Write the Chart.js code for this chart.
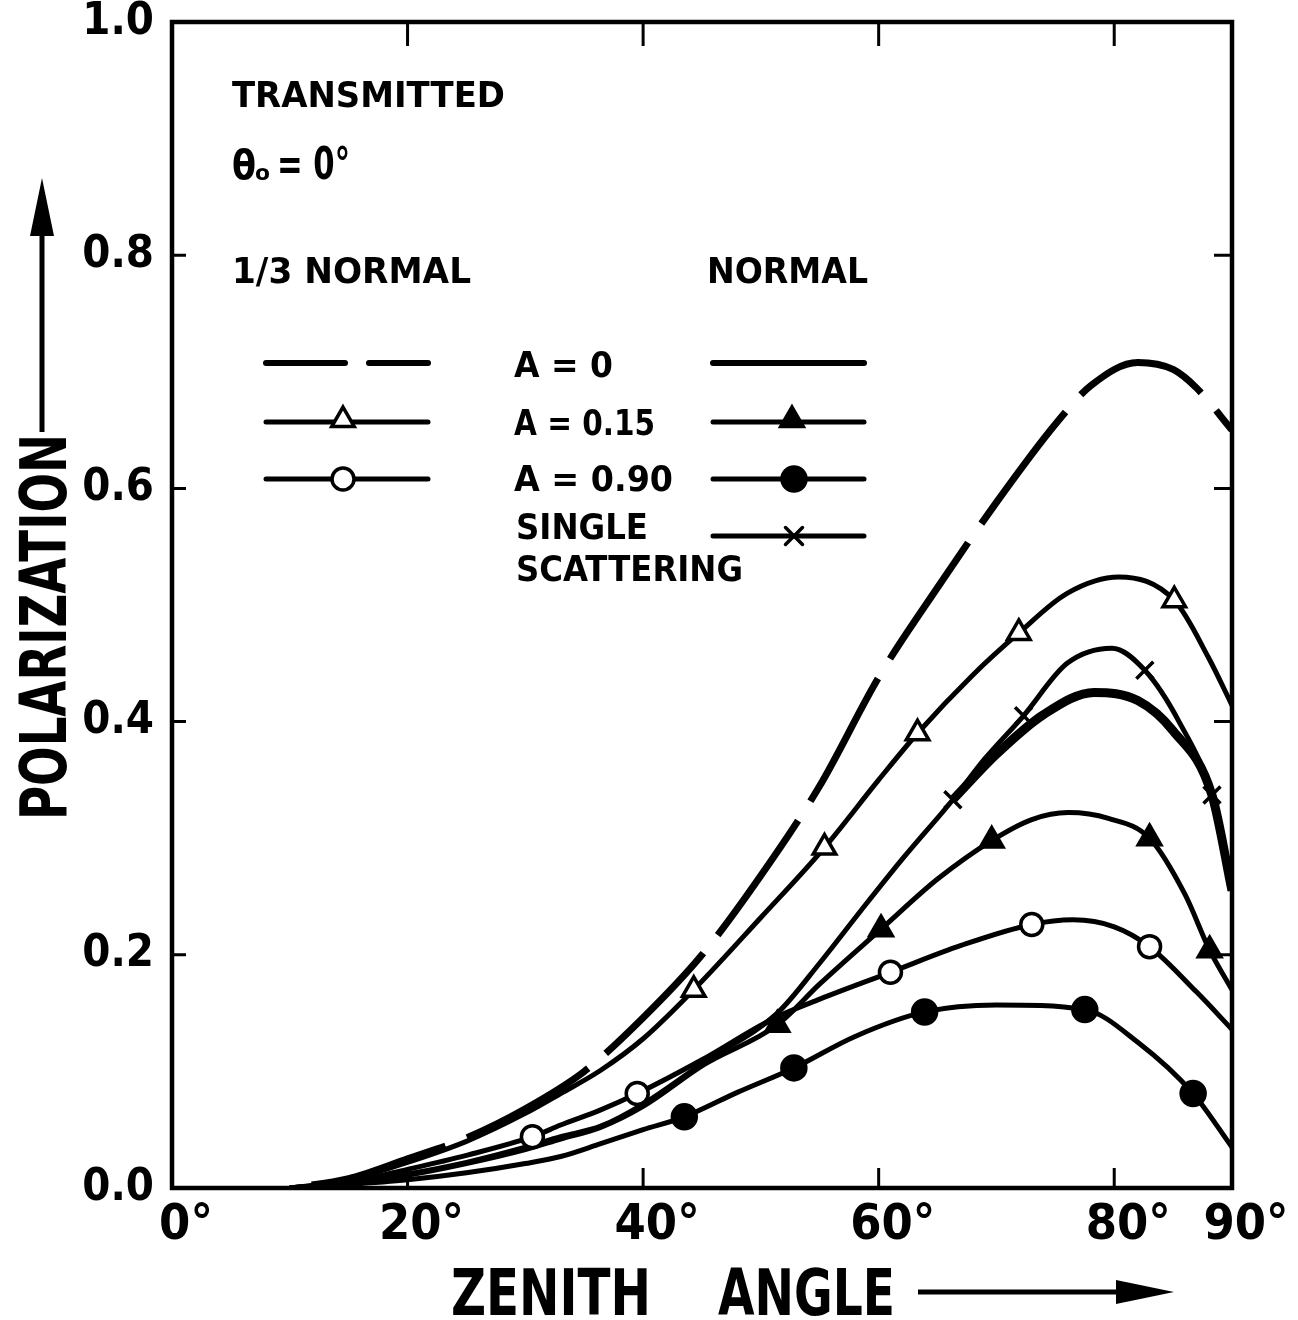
<!DOCTYPE html>
<html>
<head>
<meta charset="utf-8">
<script src="https://cdn.jsdelivr.net/npm/chart.js@4.4.1/dist/chart.umd.min.js"></script>
<style>
    html, body { margin: 0; padding: 0; background: #fff; }
    #wrap { position: relative; width: 1298px; height: 1320px; }
</style>
</head>
<body>
<div id="wrap"><canvas id="polChart" width="1298" height="1320"></canvas></div>
<script>
// Zenith angle (deg) and polarization

// 1/3 normal, A = 0 (dashed)
const thirdA0X = [10, 15, 20, 25, 30, 35, 40, 45, 50, 55, 60, 65, 70, 75, 78, 82, 85, 87, 90];
const thirdA0Y = [0, 0.008, 0.025, 0.043, 0.068, 0.100, 0.146, 0.200, 0.268, 0.345, 0.438, 0.515, 0.588, 0.655, 0.688, 0.708, 0.702, 0.686, 0.650];

// 1/3 normal, A = 0.15 (open triangles)
const thirdA15X = [10, 15, 20, 25, 30, 33, 36.4, 40, 44.3, 50, 55.4, 60, 63.3, 68, 71.9, 76, 80.4, 85.1, 88, 90];
const thirdA15Y = [0, 0.007, 0.022, 0.040, 0.064, 0.081, 0.101, 0.128, 0.170, 0.232, 0.292, 0.350, 0.390, 0.440, 0.476, 0.510, 0.524, 0.504, 0.455, 0.414];
const thirdA15Marks = [44.3, 55.4, 63.3, 71.9, 85.1];

// 1/3 normal, A = 0.90 (open circles)
const thirdA90X = [10, 15, 20, 25, 30.6, 33, 36.4, 39.5, 45, 51, 55, 61, 67, 73, 76.5, 80, 83, 87, 90];
const thirdA90Y = [0, 0.005, 0.016, 0.028, 0.044, 0.054, 0.067, 0.081, 0.110, 0.145, 0.162, 0.185, 0.208, 0.226, 0.230, 0.224, 0.207, 0.168, 0.136];
const thirdA90Marks = [30.6, 39.5, 61, 73, 83];

// normal, A = 0 (solid, splits from single scattering near 66 deg)
const normA0X = [66.3, 70, 74, 78.3, 82, 85, 88.3, 90];
const normA0Y = [0.333, 0.372, 0.406, 0.425, 0.418, 0.392, 0.337, 0.255];

// normal, A = 0.15 (filled triangles)
const normA15X = [10, 15, 20, 25, 30, 33, 36.4, 40, 45.2, 51.4, 55, 60.2, 65, 69.6, 73, 76.1, 79.5, 83, 86, 88.1, 90];
const normA15Y = [0, 0.004, 0.011, 0.021, 0.033, 0.042, 0.052, 0.070, 0.106, 0.140, 0.175, 0.222, 0.265, 0.298, 0.316, 0.322, 0.317, 0.300, 0.252, 0.204, 0.170];
const normA15Marks = [51.4, 60.2, 69.6, 83, 88.1];

// normal, A = 0.90 (filled circles)
const normA90X = [10, 15, 20, 25, 30, 33, 36.4, 40, 43.5, 48, 52.8, 58, 63.9, 70, 77.5, 82, 86.7, 90];
const normA90Y = [0, 0.003, 0.007, 0.013, 0.021, 0.027, 0.038, 0.050, 0.061, 0.082, 0.103, 0.130, 0.151, 0.157, 0.153, 0.125, 0.081, 0.035];
const normA90Marks = [43.5, 52.8, 63.9, 77.5, 86.7];

// single scattering (crosses)
const singleX = [10, 15, 20, 25, 30, 33, 36.4, 40, 45.2, 51.4, 55, 58.5, 62, 66.3, 69, 72.3, 76, 79.8, 82.6, 85.5, 88.3, 90];
const singleY = [0, 0.004, 0.012, 0.022, 0.035, 0.044, 0.053, 0.072, 0.108, 0.150, 0.193, 0.238, 0.282, 0.333, 0.368, 0.405, 0.450, 0.463, 0.444, 0.400, 0.337, 0.260];
const singleMarks = [66.3, 72.3, 82.6, 88.3];

// axis ticks
const xTickValues = [0, 20, 40, 60, 80, 90];
const yTickValues = [0, 0.2, 0.4, 0.6, 0.8, 1.0];
const xInnerTicks = [20, 40, 60, 80];
const yInnerTicks = [0.2, 0.4, 0.6, 0.8];

const INK = '#000';
const TEXT_FONT = '"DejaVu Sans Condensed", "DejaVu Sans", sans-serif';

function toPoints(xs, ys) {
    return xs.map((x, i) => ({ x: x, y: ys[i] }));
}

function markPoints(xs, ys, marks) {
    return xs.map((x, i) => ({ x: x, y: ys[i] })).filter(p => marks.includes(p.x));
}

function lineSet(label, xs, ys, width, dash) {
    return {
        label: label,
        data: toPoints(xs, ys),
        borderColor: INK,
        borderWidth: width,
        borderDash: dash || [],
        borderDashOffset: dash ? 141 : 0,
        pointRadius: 0,
        fill: false,
        cubicInterpolationMode: 'monotone',
        order: 2
    };
}

function markSet(label, xs, ys, marks, style, radius, filled) {
    return {
        label: label,
        data: markPoints(xs, ys, marks),
        showLine: false,
        pointStyle: style,
        pointRadius: radius,
        pointBorderWidth: 3.5,
        pointBorderColor: INK,
        pointBackgroundColor: filled ? INK : '#fff',
        order: 1
    };
}

/**
 * Draw a bold text stretched to a given width (lettering of the figure is condensed)
 */
function fitText(ctx, str, x, y, size, width, angle) {
    ctx.save();
    ctx.font = 'bold ' + size + 'px ' + TEXT_FONT;
    ctx.textBaseline = 'alphabetic';
    ctx.textAlign = 'left';
    const w = ctx.measureText(str).width;
    ctx.translate(x, y);
    if (angle) ctx.rotate(angle);
    ctx.scale(width / w, 1);
    ctx.fillStyle = INK;
    ctx.fillText(str, 0, 0);
    ctx.restore();
}

function legendLine(ctx, x1, x2, y) {
    ctx.beginPath();
    ctx.moveTo(x1, y);
    ctx.lineTo(x2, y);
    ctx.stroke();
}

function legendMark(ctx, style, radius, filled, x, y) {
    ctx.fillStyle = filled ? INK : '#fff';
    ctx.strokeStyle = INK;
    ctx.lineWidth = 3.5;
    Chart.helpers.drawPoint(ctx, { pointStyle: style, radius: radius, borderWidth: 3.5, rotation: 0 }, x, y);
}

// Frame with inward ticks on all four sides
const framePlugin = {
    id: 'frame',
    afterDatasetsDraw(chart) {
        const { ctx, chartArea: a, scales } = chart;
        ctx.save();
        ctx.strokeStyle = INK;
        ctx.lineWidth = 4.5;
        ctx.strokeRect(a.left, a.top, a.right - a.left, a.bottom - a.top);
        ctx.lineWidth = 3;
        ctx.beginPath();
        xInnerTicks.forEach(v => {
            const px = scales.x.getPixelForValue(v);
            ctx.moveTo(px, a.top);
            ctx.lineTo(px, a.top + 24);
            ctx.moveTo(px, a.bottom);
            ctx.lineTo(px, a.bottom - 20);
        });
        yInnerTicks.forEach(v => {
            const py = scales.y.getPixelForValue(v);
            ctx.moveTo(a.left, py);
            ctx.lineTo(a.left + 14, py);
            ctx.moveTo(a.right, py);
            ctx.lineTo(a.right - 18, py);
        });
        ctx.stroke();
        ctx.restore();
    }
};

// Texts, legend and axis titles written on the figure
const notesPlugin = {
    id: 'notes',
    afterDraw(chart) {
        const ctx = chart.ctx;
        ctx.save();

        fitText(ctx, 'TRANSMITTED', 232, 107, 36, 273);
        fitText(ctx, 'θ', 232, 179, 40, 24);
        fitText(ctx, 'o', 255, 180, 22, 15);
        fitText(ctx, '= 0°', 277, 179, 44, 73);
        fitText(ctx, '1/3 NORMAL', 232, 283, 36, 239);
        fitText(ctx, 'NORMAL', 707, 283, 36, 161);

        fitText(ctx, 'A = 0', 514, 377, 36, 99);
        fitText(ctx, 'A = 0.15', 514, 435, 36, 141);
        fitText(ctx, 'A = 0.90', 514, 491, 36, 159);
        fitText(ctx, 'SINGLE', 516, 539, 36, 132);
        fitText(ctx, 'SCATTERING', 516, 581, 36, 227);

        // legend samples
        ctx.strokeStyle = INK;
        ctx.lineWidth = 6;
        ctx.lineCap = 'round';
        legendLine(ctx, 266, 345, 363);
        legendLine(ctx, 369, 428, 363);
        ctx.lineWidth = 5;
        legendLine(ctx, 266, 428, 422);
        legendLine(ctx, 266, 428, 479);
        ctx.lineWidth = 6;
        legendLine(ctx, 713, 864, 363);
        ctx.lineWidth = 5;
        legendLine(ctx, 713, 864, 422);
        legendLine(ctx, 713, 864, 479);
        legendLine(ctx, 713, 864, 536);
        legendMark(ctx, 'triangle', 13, false, 343, 420);
        legendMark(ctx, 'circle', 11, false, 343, 479);
        legendMark(ctx, 'triangle', 13, true, 792, 420);
        legendMark(ctx, 'circle', 12, true, 794, 479);
        legendMark(ctx, 'crossRot', 12, false, 794, 536);

        // axis titles with arrows
        fitText(ctx, 'POLARIZATION', 66, 820, 64, 386, -Math.PI / 2);
        fitText(ctx, 'ZENITH', 451, 1315, 64, 200);
        fitText(ctx, 'ANGLE', 718, 1315, 64, 177);

        ctx.fillStyle = INK;
        ctx.lineCap = 'butt';
        ctx.lineWidth = 5;
        legendLine(ctx, 918, 1130, 1292);
        ctx.beginPath();
        ctx.moveTo(1174, 1292);
        ctx.lineTo(1116, 1280);
        ctx.lineTo(1116, 1304);
        ctx.closePath();
        ctx.fill();

        ctx.beginPath();
        ctx.moveTo(42, 432);
        ctx.lineTo(42, 215);
        ctx.stroke();
        ctx.beginPath();
        ctx.moveTo(42, 178);
        ctx.lineTo(30, 236);
        ctx.lineTo(54, 236);
        ctx.closePath();
        ctx.fill();

        ctx.restore();
    }
};

new Chart(document.getElementById('polChart').getContext('2d'), {
    type: 'line',
    data: {
        datasets: [
            lineSet('1/3 normal A = 0', thirdA0X, thirdA0Y, 7, [140, 23]),
            lineSet('1/3 normal A = 0.15', thirdA15X, thirdA15Y, 5),
            lineSet('1/3 normal A = 0.90', thirdA90X, thirdA90Y, 5),
            lineSet('normal A = 0', normA0X, normA0Y, 9),
            lineSet('normal A = 0.15', normA15X, normA15Y, 5),
            lineSet('normal A = 0.90', normA90X, normA90Y, 5),
            lineSet('single scattering', singleX, singleY, 5),
            markSet('1/3 normal A = 0.15 marks', thirdA15X, thirdA15Y, thirdA15Marks, 'triangle', 13, false),
            markSet('1/3 normal A = 0.90 marks', thirdA90X, thirdA90Y, thirdA90Marks, 'circle', 11, false),
            markSet('normal A = 0.15 marks', normA15X, normA15Y, normA15Marks, 'triangle', 13, true),
            markSet('normal A = 0.90 marks', normA90X, normA90Y, normA90Marks, 'circle', 12, true),
            markSet('single scattering marks', singleX, singleY, singleMarks, 'crossRot', 12, false)
        ]
    },
    options: {
        responsive: false,
        animation: false,
        devicePixelRatio: 1,
        layout: { padding: { left: 0, right: 66, top: 22, bottom: 0 } },
        plugins: {
            legend: { display: false },
            tooltip: { enabled: false }
        },
        scales: {
            x: {
                type: 'linear',
                min: 0,
                max: 90,
                grid: { display: false, drawTicks: false },
                border: { display: false },
                afterBuildTicks: scale => { scale.ticks = xTickValues.map(v => ({ value: v })); },
                afterFit: scale => {
                    scale.height = 132;
                    scale.paddingLeft = 0;
                    scale.paddingRight = 0;
                },
                ticks: {
                    color: INK,
                    padding: 8,
                    labelOffset: 14,
                    maxRotation: 0,
                    autoSkip: false,
                    font: { family: TEXT_FONT, weight: 'bold', size: 50 },
                    callback: v => v + '°'
                }
            },
            y: {
                min: 0,
                max: 1,
                grid: { display: false, drawTicks: false },
                border: { display: false },
                afterBuildTicks: scale => { scale.ticks = yTickValues.map(v => ({ value: v })); },
                afterFit: scale => {
                    scale.width = 172;
                    scale.paddingTop = 0;
                    scale.paddingBottom = 0;
                },
                ticks: {
                    color: INK,
                    padding: 18,
                    autoSkip: false,
                    font: { family: TEXT_FONT, weight: 'bold', size: 45 },
                    callback: v => v.toFixed(1)
                }
            }
        }
    },
    plugins: [framePlugin, notesPlugin]
});
</script>
</body>
</html>
